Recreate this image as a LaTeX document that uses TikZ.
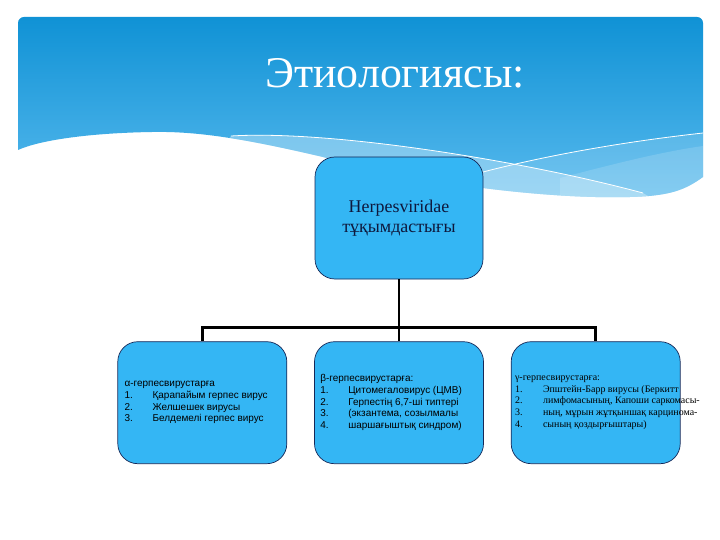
\documentclass[tikz,border=0pt]{standalone}
\usepackage{fontspec}
\setmainfont{Liberation Serif}
\setsansfont{Liberation Sans}
\usepackage{xcolor}
\usepackage{tikz}
\usetikzlibrary{positioning,calc}

\definecolor{bannertop}{RGB}{16,146,213}
\definecolor{bannerbot}{RGB}{88,186,238}
\definecolor{boxblue}{RGB}{52,182,244}
\definecolor{boxline}{RGB}{22,40,88}
\definecolor{famtext}{RGB}{14,24,60}

\newcommand{\listnum}[1]{\makebox[28bp][l]{#1}}

\begin{document}
\begin{tikzpicture}[
    x=1bp, y=-1bp,
    titletxt/.style = {text=white, inner sep=0pt,
                       font=\fontsize{44}{50}\selectfont},
    famblock/.style = {draw=boxline, line width=0.7bp, fill=boxblue,
                       rounded corners=20bp, minimum width=168bp,
                       minimum height=122bp, align=center, text=famtext,
                       font=\fontsize{18}{20.5}\selectfont},
    subblock/.style = {draw=boxline, line width=0.7bp, fill=boxblue,
                       rounded corners=20bp, minimum width=169bp,
                       minimum height=122bp},
    listtxt/.style  = {align=left, inner sep=0pt, text=black,
                       font=\sffamily\fontsize{10}{11.7}\selectfont},
    listser/.style  = {align=left, inner sep=0pt, text=black,
                       font=\fontsize{10}{11.7}\selectfont},
    wave/.style     = {white, line width=0.8bp},
    conn/.style     = {line width=2.6bp},
]
\useasboundingbox (0,0) rectangle (720,540);
\fill[white] (0,0) rectangle (720,540);

%% ── Banner ────────────────────────────────────────────────────────────────
\def\bannerpath{(18,150) [rounded corners=6bp] -- (18,17) -- (703,17)
  [sharp corners] -- (703,177) .. controls (685,190) and (670,196) .. (630,197)
  .. controls (560,199) and (440,188) .. (323,157)
  .. controls (250,140) and (200,131) .. (152,132)
  .. controls (90,133) and (40,140) .. (18,150) -- cycle}
\shade[top color=bannertop, bottom color=bannerbot] \bannerpath;
\begin{scope}
  \clip \bannerpath;
  \fill[white, opacity=0.32] (231,136) .. controls (330,130) and (520,160) .. (643,193)
    -- (720,240) -- (150,240) -- cycle;
  \fill[white, opacity=0.15] (483,172) .. controls (560,152) and (640,140) .. (703,133)
    -- (720,240) -- (483,240) -- cycle;
  \fill[white, opacity=0.15] (560,178) .. controls (610,165) and (660,152) .. (703,146)
    -- (720,240) -- (560,240) -- cycle;
  \draw[wave] (231,136) .. controls (330,130) and (520,160) .. (643,193);
  \draw[wave] (483,172) .. controls (560,152) and (640,140) .. (703,133);
\end{scope}

\node[titletxt, anchor=base] (title) at (395,88) {Этиологиясы:};

%% ── Family ────────────────────────────────────────────────────────────────
\node[famblock] (fam) at (399,218) {Herpesviridae\\тұқымдастығы};

%% ── Subfamilies ───────────────────────────────────────────────────────────
\node[subblock, below=62bp of fam] (beta) {};
\node[subblock, left=27bp of beta] (alpha) {};
\node[subblock, right=27bp of beta] (gamma) {};

\draw[conn] (fam.south) -- ++(0,48) -| (alpha.north);
\draw[conn] (fam.south) -- (beta.north);
\draw[conn] (fam.south) -- ++(0,48) -| (gamma.north);

\node[listtxt, right=7bp of alpha.west] (alphatxt)
  {α-герпесвирустарға\\
   \listnum{1.}Қарапайым герпес вирус\\
   \listnum{2.}Желшешек вирусы\\
   \listnum{3.}Белдемелі герпес вирус};
\node[listtxt, right=6bp of beta.west] (betatxt)
  {β-герпесвирустарға:\\
   \listnum{1.}Цитомегаловирус (ЦМВ)\\
   \listnum{2.}Герпестің 6,7-ші типтері\\
   \listnum{3.}(экзантема, созылмалы\\
   \listnum{4.}шаршағыштық синдром)};
\node[listser, right=4bp of gamma.west] (gammatxt)
  {γ-герпесвирустарға:\\
   \listnum{1.}Эпштейн-Барр вирусы (Беркитт\\
   \listnum{2.}лимфомасының, Капоши саркомасы-\\
   \listnum{3.}ның, мұрын жұтқыншақ карцинома-\\
   \listnum{4.}сының қоздырғыштары)};

\end{tikzpicture}
\end{document}
